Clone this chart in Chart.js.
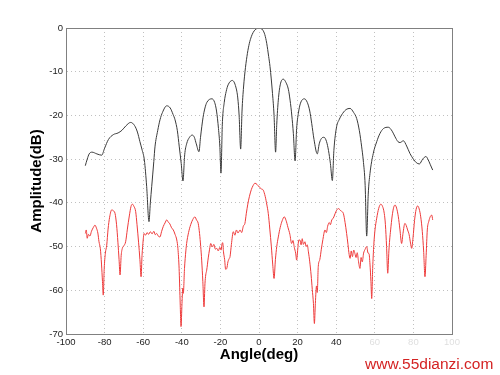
<!DOCTYPE html>
<html>
<head>
<meta charset="utf-8">
<script src="https://cdn.jsdelivr.net/npm/chart.js"></script>
<style>
  html, body { margin: 0; padding: 0; background: #ffffff; }
  #wrap { width: 500px; height: 375px; }
</style>
</head>
<body>
<div id="wrap"><canvas id="pattern" width="500" height="375"></canvas></div>
<script>
// ── DATA ─────────────────────────────────────────────────────
// Array pattern (black) and measured pattern (red).
// Angles in degrees, amplitudes in dB.

const blackAngle = [
  -90, -89, -88, -86.5, -84, -81.5, -80, -78, -75.5, -73, -71, -69, -66.5, -64.5, -63,
  -61.7, -60.5, -59.4, -58.2, -57, -56.3, -55.6, -54.5, -53.9, -52.5, -51.3, -50, -47.8,
  -46, -44.5, -43.5, -42.3, -41.3, -40.3, -39.4, -38.5, -37.5, -36, -34.6, -33.5, -32.5,
  -31.1, -30.3, -29, -28, -27, -24.4, -23, -22, -21, -20.3, -19.7, -19, -18, -17, -16,
  -13.8, -12, -11, -10.3, -9.5, -8.8, -8, -7, -6, -5, -4, -3, -2, -1, 0, 1, 2, 3, 4, 5,
  5.7, 7, 7.8, 8.6, 9.2, 10, 11, 12.6, 14, 15.2, 16.1, 17, 17.8, 18.7, 19.5, 20.4, 21.5,
  23.5, 25, 26.3, 27.3, 28.5, 30.2, 31.2, 32.3, 33.7, 35, 36, 37, 38, 38.8, 40.2, 41.5,
  42.8, 45, 47.2, 49, 50.6, 52, 53.2, 54, 55, 55.8, 56.6, 57.5, 59.2, 61, 62.7, 64.5, 67,
  69, 70.5, 72, 73.1, 74.8, 76.5, 78.2, 80, 81.5, 83.1, 84.8, 86.5, 87.5, 88.8, 90
];
const blackDb = [
  -31.5, -30, -28.8, -28.4, -28.8, -29.1, -27.5, -25.5, -24.4, -24, -23.4, -22.4, -21.6, -22.3, -23.8,
  -26, -28, -30.2, -36.3, -44.3, -40, -36.3, -30.5, -27.2, -23.5, -21, -19.3, -17.8,
  -18.3, -19.8, -21, -23.5, -27.2, -31, -35, -29, -26.5, -25, -24.5, -25, -26.5,
  -28.3, -25, -20.5, -18.3, -17, -16.2, -17, -19, -23, -27, -33.2, -22, -17, -14.5, -13,
  -12, -13.5, -16, -20, -27.7, -19, -13.5, -9, -5.8, -3.5, -2, -1, -0.4, -0.1, 0, -0.1, -0.5, -1.5, -3.5, -6.5,
  -8.8, -15, -20, -28.4, -22, -16.5, -13, -11.7, -12.5, -14, -16.5, -20, -24.1, -30.4, -23, -19.5, -17.2,
  -16.2, -17, -19, -21.8, -25.5, -28.8, -26.5, -25.3, -25, -26, -28, -31, -34.9, -28, -22.6, -21,
  -19.9, -18.7, -18.4, -19.3, -20.7, -23.5, -27.2, -30.2, -36, -47.6, -38, -33.3, -28.7, -26, -24.1, -23, -22.7,
  -23.6, -24.9, -26, -26.2, -25.8, -27, -28.7, -30, -30.8, -31.1, -30, -29.4, -30, -31.3, -32.5
];

const redAngle = [
  -90, -89.5, -89, -88.4, -87.6, -86.8, -85.8, -85, -84.2, -83.5, -82.9, -82.2, -81.6, -81.1, -80.7,
  -80.2, -79.6, -78.9, -78.2, -77.4, -76.3, -75.5, -74.6, -73.8, -73.1, -72.5, -72, -71.4, -70.8, -70,
  -69.1, -68.2, -67.2, -66.3, -65.6, -64.8, -63.9, -63.2, -62.4, -61.7, -61.1, -60.6, -60, -59.6, -58.8,
  -58, -57.2, -56.3, -55.4, -54.5, -53.7, -53, -52.2, -51.3, -50.5, -49.6, -48.7, -47.8, -47, -46.2,
  -45.3, -44.4, -43.5, -42.6, -42, -41.4, -40.9, -40.4, -39.9, -39.5, -39.2, -38.6, -37.9, -37.5, -36.5,
  -35.4, -34.3, -33.2, -32.4, -31.5, -30.8, -30.2, -29.7, -29.1, -28.5, -28, -27.6, -27.1, -26.3, -25.6,
  -25, -24.2, -23.4, -22.6, -21.9, -21.1, -20.3, -19.6, -19.3, -18.8, -18.4, -17.8, -17.3, -16.7, -16.1,
  -15.5, -15, -14.3, -13.3, -12.5, -11.7, -10.9, -9.8, -9, -8.1, -7.3, -6.6, -5.8, -5, -4,
  -3, -2.1, -1, 0.2, 1.2, 2.2, 3.2, 4.1, 4.8, 5.6, 6.4, 7.1, 7.8, 8.5, 9.2,
  10, 11, 12, 13.1, 14, 15, 16, 16.9, 17.6, 18.3, 19, 19.5, 20.1, 20.6, 21.2,
  21.8, 22.4, 23, 23.8, 24.4, 25, 25.6, 26.3, 27, 27.6, 28.2, 28.7, 29.2, 29.8, 30.2,
  30.7, 31.5, 32.3, 33.1, 34.2, 34.9, 35.6, 36.4, 37, 37.7, 38.5, 39.4, 40.2, 41.1, 42,
  42.9, 43.7, 44.6, 45.4, 46.1, 46.7, 47.2, 47.8, 48.4, 49.1, 49.7, 50.3, 50.9, 51.5, 52.3,
  52.9, 53.5, 54.2, 54.9, 55.8, 56.5, 57, 57.5, 58, 58.4, 58.9, 59.5, 60.1, 61, 62,
  63.1, 64, 64.9, 65.5, 66.1, 66.7, 67.3, 67.7, 68.2, 69, 69.8, 70.5, 71.3, 72.2, 73,
  73.9, 74.6, 75.6, 76.3, 77, 77.8, 78.5, 79.1, 79.8, 80.6, 81.4, 82.2, 83, 83.8, 84.6,
  85.3, 86, 86.6, 87.2, 88, 88.8, 89.5, 90
];
const redDb = [
  -47, -46.2, -48.1, -47.2, -47.6, -46.5, -45.6, -45.1, -45.8, -46.9, -48.9, -50.5, -54, -58, -61.1,
  -55, -51.5, -49.7, -46, -43.3, -41.6, -41.8, -42.4, -45, -49, -53, -56.5, -52, -50.4, -49.8,
  -48.9, -46, -43, -40.8, -40.3, -40.8, -42, -45, -49, -53, -56.9, -52, -48.5, -47, -47.4,
  -46.8, -47.2, -46.6, -47.1, -46.5, -47.3, -47, -47.6, -47.8, -46.6, -45.4, -44.6, -43.9, -44.4, -44.8,
  -45.7, -46.2, -47.2, -48.5, -50.5, -55, -62, -68.3, -63, -59.5, -60.7, -55, -51, -49.3, -46.8,
  -45, -43.8, -43.2, -43.9, -44.7, -47, -50, -53.1, -58, -63.8, -58.5, -56.5, -55.4, -52.6, -50.6,
  -49.3, -50.1, -49.5, -50.6, -50.4, -51, -50.2, -50.8, -49.7, -49.1, -51.2, -53, -55.2, -55, -53.5,
  -52.8, -52.3, -49.5, -46.6, -47.4, -46.2, -46.9, -46.2, -46.8, -45.3, -44.7, -42.5, -40.3, -38.6, -37,
  -36, -35.5, -35.8, -36.4, -36.8, -37.1, -38.5, -40.5, -42.4, -46, -50, -54, -57.3, -53, -50,
  -47.8, -45.6, -44.1, -43.2, -44, -45.6, -47.2, -49.3, -48.6, -50.2, -51.5, -53.1, -50.5, -48.5, -48.5,
  -49.6, -48.2, -49.5, -48.9, -50, -49.6, -51.2, -53.5, -56.5, -59.8, -63, -67.6, -63, -59, -60.5,
  -54.6, -53, -50.6, -48.4, -46.2, -46.8, -45.3, -44.5, -45, -43.9, -43.5, -42.5, -41.7, -41.3, -41.6,
  -42, -42.4, -44.5, -47, -49.5, -51.8, -52.7, -51, -52.3, -50.8, -51.6, -52.5, -51.4, -53.2, -55,
  -52.5, -53.5, -51.5, -50.7, -50, -51.5, -51.6, -54, -58, -61.9, -55, -49.5, -46.2, -43.5, -41.3,
  -40.3, -40.8, -42.4, -45, -50, -56.1, -51, -48.5, -46.2, -43, -41, -40.5, -41.2, -43.2, -46,
  -49.3, -47, -44.7, -45.2, -46.2, -47.3, -49.2, -50.4, -48, -44, -41.5, -40.7, -41.4, -43.2, -46.5,
  -51, -56.9, -52, -46.2, -44.2, -43.1, -42.8, -43.9
];

// Axis limits and tick spacing (MATLAB-style axes)
const xRange = [-100, 100];
const yRange = [-70, 0];
const xStep = 20;
const yStep = 10;


// ── PLUGIN: frame box + watermark ────────────────────────────
// MATLAB draws a full box round the axes; Chart.js only draws
// left and bottom, so the other two sides are added here.
const framePlugin = {
  id: 'frame',
  afterDraw(chart) {
    const { ctx, chartArea: a } = chart;
    ctx.save();
    ctx.strokeStyle = '#808080';
    ctx.lineWidth = 1;
    ctx.strokeRect(Math.round(a.left) + 0.5, Math.round(a.top) + 0.5,
                   Math.round(a.right - a.left), Math.round(a.bottom - a.top));

    // watermark sits on a faint white box over the last tick labels
    ctx.fillStyle = 'rgba(255,255,255,0.85)';
    ctx.fillRect(362, 337, 138, 38);
    ctx.fillStyle = '#d42323';
    ctx.font = "15.5px 'Liberation Sans', Arial, sans-serif";
    ctx.textAlign = 'left';
    ctx.textBaseline = 'alphabetic';
    ctx.fillText('www.55dianzi.com', 365, 369);
    ctx.restore();
  }
};


// ── CHART ────────────────────────────────────────────────────
const tickFont = { family: "'Liberation Sans', Arial, sans-serif", size: 9.5 };
const titleFont = { family: "'Liberation Sans', Arial, sans-serif", size: 15, weight: 'bold' };

new Chart(document.getElementById('pattern'), {
  type: 'line',
  data: {
    datasets: [
      {
        label: 'array',
        data: blackAngle.map((a, i) => ({ x: a, y: blackDb[i] })),
        borderColor: '#3a3a3a',
        borderWidth: 1,
        pointRadius: 0,
        cubicInterpolationMode: 'monotone',
        fill: false,
      },
      {
        label: 'measured',
        data: redAngle.map((a, i) => ({ x: a, y: redDb[i] })),
        borderColor: '#ee3a3a',
        borderWidth: 1,
        pointRadius: 0,
        cubicInterpolationMode: 'monotone',
        fill: false,
      }
    ]
  },
  options: {
    responsive: false,
    animation: false,
    devicePixelRatio: 1,
    layout: { padding: { top: 28, right: 48, left: 0, bottom: 0 } },
    plugins: {
      legend: { display: false },
      tooltip: { enabled: false },
    },
    scales: {
      x: {
        type: 'linear',
        min: xRange[0],
        max: xRange[1],
        afterFit: (scale) => { scale.height = 41; },
        grid: { color: '#c0c0c0', drawTicks: false },
        border: { color: '#808080', dash: [1, 3] },
        ticks: { stepSize: xStep, padding: 3, color: '#222', font: tickFont, maxRotation: 0 },
        title: { display: true, text: 'Angle(deg)', color: '#000', font: titleFont, padding: { top: 0, bottom: 11 } }
      },
      y: {
        min: yRange[0],
        max: yRange[1],
        afterFit: (scale) => { scale.width = 66; },
        grid: { color: '#c0c0c0', drawTicks: false },
        border: { color: '#808080', dash: [1, 3] },
        ticks: { stepSize: yStep, padding: 3, color: '#222', font: tickFont },
        title: { display: true, text: 'Amplitude(dB)', color: '#000', font: titleFont, padding: { top: 28, bottom: 0 } }
      }
    }
  },
  plugins: [framePlugin]
});
</script>
</body>
</html>
